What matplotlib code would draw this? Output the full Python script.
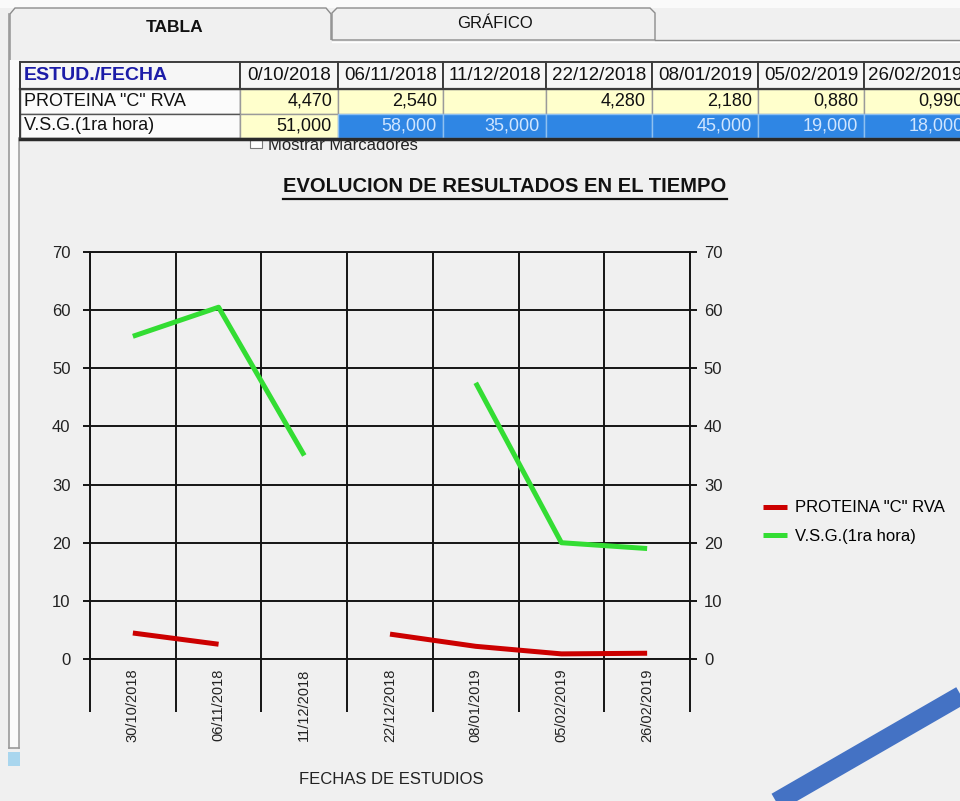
import numpy as np
import matplotlib
matplotlib.use("Agg")
import matplotlib.pyplot as plt
from matplotlib.patches import Rectangle, Polygon
from matplotlib.lines import Line2D

# ---------------- data ----------------
chart_dates = ["30/10/2018", "06/11/2018", "11/12/2018", "22/12/2018",
               "08/01/2019", "05/02/2019", "26/02/2019"]
pcr_values = [4.47, 2.54, np.nan, 4.28, 2.18, 0.88, 0.99]
vsg_values = [55.5, 60.5, 35.0, np.nan, 47.5, 20.0, 19.0]
series_names = ['PROTEINA "C" RVA', 'V.S.G.(1ra hora)']
y_ticks = [0, 10, 20, 30, 40, 50, 60, 70]

table_header = "ESTUD./FECHA"
table_dates = ["0/10/2018", "06/11/2018", "11/12/2018", "22/12/2018",
               "08/01/2019", "05/02/2019", "26/02/2019"]
table_pcr = ["4,470", "2,540", "", "4,280", "2,180", "0,880", "0,990"]
table_vsg = ["51,000", "58,000", "35,000", "", "45,000", "19,000", "18,000"]
tab_labels = ["TABLA", "GRÁFICO"]
chart_title = "EVOLUCION DE RESULTADOS EN EL TIEMPO"
x_title = "FECHAS DE ESTUDIOS"
checkbox_label = "Mostrar Marcadores"

REG = ['Liberation Sans', 'DejaVu Sans']

W, H = 960, 801
BG = '#f0f0f0'
fig = plt.figure(figsize=(W / 100, H / 100), dpi=100, facecolor=BG)

# ---------------- background / UI (pixel coordinates) ----------------
bg = fig.add_axes([0, 0, 1, 1])
bg.set_xlim(0, W)
bg.set_ylim(H, 0)
bg.axis('off')
bg.set_zorder(0)

bg.add_patch(Rectangle((0, 0), W, 8, fc='#fafafa', ec='none', zorder=1))

# tabs
tab1 = [(10, 60), (10, 14), (15, 8), (326, 8), (331, 14), (331, 40)]
tab2 = [(332, 40), (332, 13), (337, 8), (650, 8), (655, 13), (655, 40)]
bg.add_patch(Polygon(tab1, closed=False, fc=BG, ec='#8c8c8c', lw=1.0, zorder=2))
bg.add_patch(Polygon(tab2 + [(332, 40)], closed=True, fc=BG, ec='#8c8c8c', lw=1.0, zorder=2))
bg.plot([655, W], [40, 40], color='#8c8c8c', lw=1.0, zorder=2)
bg.plot([332, W], [42, 42], color='#ffffff', lw=1.0, zorder=2)
bg.text(175, 27, tab_labels[0], ha='center', va='center', fontsize=12.5,
        fontweight='bold', family=REG, color='#111111', zorder=3)
bg.text(495, 24, tab_labels[1], ha='center', va='center', fontsize=12,
        family=REG, color='#111111', zorder=3)

# window left borders
bg.add_patch(Rectangle((9, 60), 10, 688, fc='#fafafa', ec='none', zorder=1))
bg.plot([9, 9], [14, 748], color='#9a9a9a', lw=1.2, zorder=2)
bg.plot([19, 19], [138, 748], color='#a0a0a0', lw=1.2, zorder=2)
bg.plot([9, 19], [748, 748], color='#9a9a9a', lw=1.2, zorder=2)
bg.add_patch(Rectangle((8, 752), 12, 14, fc='#a9d6ee', ec='none', zorder=2))
bg.add_patch(Rectangle((19, 140), W - 19, 608, fc=BG, ec='none', zorder=1))

# partially hidden checkbox under the table
bg.add_patch(Rectangle((250, 136), 12, 12, fc='#ffffff', ec='#7a7a7a', lw=0.8, zorder=3))
bg.text(268, 150, checkbox_label, ha='left', va='baseline', fontsize=12,
        family=REG, color='#222222', zorder=3)

# table
col_edges = [20, 240, 338, 443, 546, 652, 758, 864, 970]
row_edges = [62, 89, 114, 138]
YELLOW = '#ffffcc'
BLUE = '#2f86e4'

# header row
for c in range(len(col_edges) - 1):
    x0, x1 = col_edges[c], col_edges[c + 1]
    bg.add_patch(Rectangle((x0, row_edges[0]), x1 - x0, row_edges[1] - row_edges[0],
                           fc='#f6f6f6', ec='#3c3c3c', lw=1.4, zorder=6))
bg.text(24, 76, table_header, ha='left', va='center', fontsize=14, fontweight='bold',
        family=REG, color='#1c1ca8', zorder=8)
for c, d in enumerate(table_dates):
    x0, x1 = col_edges[c + 1], col_edges[c + 2]
    if c == len(table_dates) - 1:
        bg.text(x0 + 4, 76, d, ha='left', va='center', fontsize=13.5, family=REG,
                color='#111111', zorder=8)
    else:
        bg.text((x0 + x1) / 2, 76, d, ha='center', va='center', fontsize=13.5,
                family=REG, color='#111111', zorder=8)

# data rows
row_vals = [table_pcr, table_vsg]
for r in range(2):
    y0, y1 = row_edges[r + 1], row_edges[r + 2]
    bg.add_patch(Rectangle((col_edges[0], y0), col_edges[1] - col_edges[0], y1 - y0,
                           fc='#fbfbfb', ec='#555555', lw=1.0, zorder=6))
    bg.text(24, (y0 + y1) / 2, series_names[r], ha='left', va='center', fontsize=13,
            family=REG, color='#111111', zorder=8)
    for c, v in enumerate(row_vals[r]):
        x0, x1 = col_edges[c + 1], col_edges[c + 2]
        selected = (r == 1 and c >= 1)
        fc = BLUE if selected else YELLOW
        ec = '#8fc0f0' if selected else '#9a9a9a'
        bg.add_patch(Rectangle((x0, y0), x1 - x0, y1 - y0, fc=fc, ec=ec, lw=1.0, zorder=6))
        bg.text(x1 - 6, (y0 + y1) / 2, v, ha='right', va='center', fontsize=13,
                family=REG, color='#cfe5ff' if selected else '#111111', zorder=8)
bg.plot([col_edges[0], W], [row_edges[1], row_edges[1]], color='#3c3c3c', lw=1.6, zorder=7)
bg.plot([col_edges[0], W], [row_edges[3] + 1, row_edges[3] + 1], color='#2a2a2a', lw=2.5, zorder=7)
bg.plot([col_edges[0], col_edges[0]], [row_edges[0], row_edges[3]], color='#3c3c3c', lw=1.4, zorder=7)

# blue diagonal stroke
bg.plot([990, 760], [678.7, 811.4], color='#4472c4', lw=13.7,
        solid_capstyle='butt', zorder=9)

# ---------------- chart ----------------
GRID = '#151515'
ax = fig.add_axes([90 / W, 1 - 659 / H, 600 / W, 407 / H])
ax.set_zorder(2)
ax.patch.set_alpha(0)
ax.set_axisbelow(True)

l_pcr, = ax.plot(range(len(chart_dates)), pcr_values, color='#cc0000', lw=3.6,
                 solid_capstyle='butt', label=series_names[0])
l_vsg, = ax.plot(range(len(chart_dates)), vsg_values, color='#33dd33', lw=3.6,
                 solid_capstyle='butt', label=series_names[1])

ax.set_xlim(-0.5, len(chart_dates) - 0.5)
ax.set_ylim(0, 70)
ax.set_yticks(y_ticks)
ax.set_yticklabels([str(v) for v in y_ticks], family=REG, fontsize=12, color='#222222')
ax.set_xticks(range(len(chart_dates)))
ax.set_xticklabels(chart_dates, rotation=90, family=REG, fontsize=10.5, color='#222222')
ax.set_xticks(np.arange(-0.5, len(chart_dates), 1.0), minor=True)
ax.tick_params(axis='x', which='major', length=0, pad=7)
ax.tick_params(axis='x', which='minor', length=38, width=1.4, color=GRID, direction='out')
ax.tick_params(axis='y', which='major', length=5, width=1.4, color=GRID, pad=9,
               direction='out')
ax.grid(axis='y', which='major', color=GRID, lw=1.4)
ax.grid(axis='x', which='minor', color=GRID, lw=1.4)
for s in ax.spines.values():
    s.set_color(GRID)
    s.set_linewidth(1.4)

ax2 = ax.twinx()
ax2.set_ylim(0, 70)
ax2.set_yticks(y_ticks)
ax2.set_yticklabels([str(v) for v in y_ticks], family=REG, fontsize=12, color='#222222')
ax2.tick_params(axis='y', length=5, width=1.4, color=GRID, pad=5, direction='out')
for s in ax2.spines.values():
    s.set_visible(False)

fig.text(391 / W, 1 - 780 / H, x_title, ha='center', va='center', fontsize=12,
         family=REG, color='#222222')

title = fig.text(505 / W, 1 - 187 / H, chart_title, ha='center', va='center',
                 fontsize=14.5, fontweight='bold', family=REG, color='#111111')
fig.canvas.draw()
bb = title.get_window_extent(fig.canvas.get_renderer())
uy = bb.y0 - 2
fig.add_artist(Line2D([bb.x0 / W, bb.x1 / W], [uy / H, uy / H], color='#111111', lw=1.6,
                      transform=fig.transFigure))

fig.legend(handles=[l_pcr, l_vsg], labels=series_names, loc='center left',
           bbox_to_anchor=(763 / W, 1 - 522 / H), frameon=False,
           prop={'family': REG, 'size': 12}, handlelength=1.45, handletextpad=0.45,
           labelspacing=0.8, borderaxespad=0, borderpad=0)

fig.savefig('out.png', dpi=100, facecolor=BG)
